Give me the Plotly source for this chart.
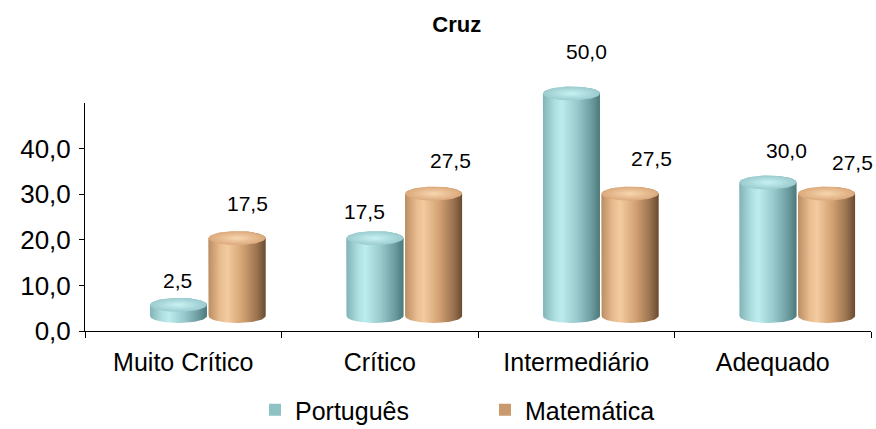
import numpy as np
import plotly.graph_objects as go

# ---- data -------------------------------------------------------------
categories = ["Muito Crítico", "Crítico", "Intermediário", "Adequado"]
portugues = [2.5, 17.5, 50.0, 30.0]
matematica = [17.5, 27.5, 27.5, 27.5]
series_names = ["Português", "Matemática"]
y_ticks = [0, 10, 20, 30, 40]

# ---- geometry of the plot area (pixels) -------------------------------
W, H = 876, 429
ML, MR, MT, MB = 85, 0, 60, 98
PW, PH = W - ML - MR, H - MT - MB          # plot area size
AXIS_W = 786                               # width of the category axis
CAT_PX = AXIS_W / len(categories)          # pixels per category
AXIS_H = 228                               # height of the 0..50 value axis
DEPTH_X, DEPTH_Y = 24.5, 15                # 3D depth shift of the cylinders
CYL_PX = 4.45                              # pixels per unit on the cylinders

half_w = 28.5 / CAT_PX                     # cylinder half width (x units)
pair_off = 29.3 / CAT_PX                   # offset of each series from centre
ell = 7 / CYL_PX                           # half height of the elliptic caps

ser_colors = {
    "Português": dict(
        body=[[0, "#82b4b7"], [0.2, "#acdee0"], [0.33, "#bdeced"],
              [0.6, "#98c9cc"], [0.85, "#6c9c9f"], [1, "#4d787a"]],
        cap=[[0, "#c8f2f3"], [1, "#9acbce"]],
        legend="#8fc2c5"),
    "Matemática": dict(
        body=[[0, "#bb8d63"], [0.2, "#e8bc8f"], [0.33, "#f3cb9f"],
              [0.6, "#d2a173"], [0.85, "#9a734f"], [1, "#684b32"]],
        cap=[[0, "#f8d6b0"], [1, "#dba97b"]],
        legend="#c99a6e"),
}

# label nudges in pixels (x, y) – mimics the 3D label placement
label_dx = {"Português": [-1, -10, 15, 18.5], "Matemática": [10.5, 16.5, 21, 25.5]}
label_dy = {"Português": [24, 27, 42, 32.5], "Matemática": [34.6, 33.6, 35.6, 31.6]}

fig = go.Figure()

t = np.linspace(0, np.pi, 40)


def cylinder_body(c, v):
    # left side down, front bottom arc, right side up, back top arc
    xs = [c - half_w, c - half_w]
    ys = [v, 0]
    xs += list(c - half_w * np.cos(t))
    ys += list(-ell * np.sin(t))
    xs += [c + half_w, c + half_w]
    ys += [0, v]
    xs += list(c + half_w * np.cos(t))
    ys += list(v + ell * np.sin(t))
    return xs, ys


def cylinder_cap(c, v):
    th = np.linspace(0, 2 * np.pi, 80)
    return list(c + half_w * np.cos(th)), list(v + ell * np.sin(th))


# category axis carrying the labels (drawn with an empty trace)
fig.add_trace(go.Scatter(x=categories, y=[None] * len(categories),
                         showlegend=False, hoverinfo="skip"))

annotations = []
for s_idx, (name, vals) in enumerate(zip(series_names, [portugues, matematica])):
    sign = -1 if s_idx == 0 else 1
    centers = [i + sign * pair_off for i in range(len(categories))]
    col = ser_colors[name]
    # plain bars carry the series values and the legend entry
    fig.add_trace(go.Bar(
        x=centers, y=vals, width=2 * half_w, name=name,
        marker=dict(color=col["legend"], line=dict(width=0)),
        xaxis="x2", yaxis="y2", legendgroup=name, showlegend=True,
        hoverinfo="skip"))
    for i, (c, v) in enumerate(zip(centers, vals)):
        bx, by = cylinder_body(c, v)
        fig.add_trace(go.Scatter(
            x=bx, y=by, mode="lines", line=dict(width=0), fill="toself",
            fillgradient=dict(type="horizontal", colorscale=col["body"]),
            xaxis="x2", yaxis="y2", showlegend=False, legendgroup=name,
            hoverinfo="skip"))
        cx, cy = cylinder_cap(c, v)
        fig.add_trace(go.Scatter(
            x=cx, y=cy, mode="lines", line=dict(width=0), fill="toself",
            fillgradient=dict(type="radial", colorscale=col["cap"]),
            xaxis="x2", yaxis="y2", showlegend=False, legendgroup=name,
            hoverinfo="skip"))
        annotations.append(dict(
            x=c, y=v, xref="x2", yref="y2", showarrow=False,
            text=f"{v:.1f}".replace(".", ","),
            xshift=label_dx[name][i], yshift=label_dy[name][i],
            xanchor="center", yanchor="middle",
            font=dict(size=21, color="#000000")))

font_family = "Liberation Sans, Arial, sans-serif"

fig.update_layout(
    width=W, height=H,
    margin=dict(l=ML, r=MR, t=MT, b=MB, pad=0),
    paper_bgcolor="white", plot_bgcolor="rgba(0,0,0,0)",
    separators=",.",
    barmode="overlay",
    font=dict(family=font_family, color="#000000"),
    title=dict(text="<b>Cruz</b>", font=dict(size=22, family=font_family),
               x=456.7 / W, xref="container", xanchor="center",
               y=1 - 24 / H, yref="container", yanchor="middle"),
    xaxis=dict(type="category", categoryorder="array", categoryarray=categories,
               domain=[0, AXIS_W / PW], range=[-0.5, len(categories) - 0.5],
               anchor="y",
               tickson="boundaries", ticks="outside", ticklen=6, tickwidth=1,
               tickcolor="#000000", showline=True, linecolor="#000000",
               linewidth=1, showgrid=False, zeroline=False,
               ticklabelstandoff=9,
               tickfont=dict(size=25), fixedrange=True),
    yaxis=dict(domain=[0, AXIS_H / PH], range=[0, 50], tickvals=y_ticks,
               anchor="x",
               tickformat=".1f", ticks="outside", ticklen=5, tickwidth=1,
               tickcolor="#000000", showline=True, linecolor="#000000",
               linewidth=1, showgrid=False, zeroline=False,
               ticklabelstandoff=3,
               tickfont=dict(size=26), fixedrange=True),
    # independent axes for the cylinders, shifted by the 3D depth
    xaxis2=dict(anchor="y2", domain=[DEPTH_X / PW, 1],
                range=[-0.5, -0.5 + (PW - DEPTH_X) / CAT_PX],
                visible=False, fixedrange=True),
    yaxis2=dict(anchor="x2", domain=[0, 1],
                range=[-DEPTH_Y / CYL_PX, (PH - DEPTH_Y) / CYL_PX],
                visible=False, fixedrange=True),
    legend=dict(orientation="h", xref="container", yref="container",
                x=255 / W, xanchor="left", y=1 - 410 / H, yanchor="middle",
                font=dict(size=25), entrywidth=185, itemwidth=30,
                bgcolor="rgba(0,0,0,0)"),
    annotations=annotations,
    showlegend=True,
)

fig.write_html("out.html")
